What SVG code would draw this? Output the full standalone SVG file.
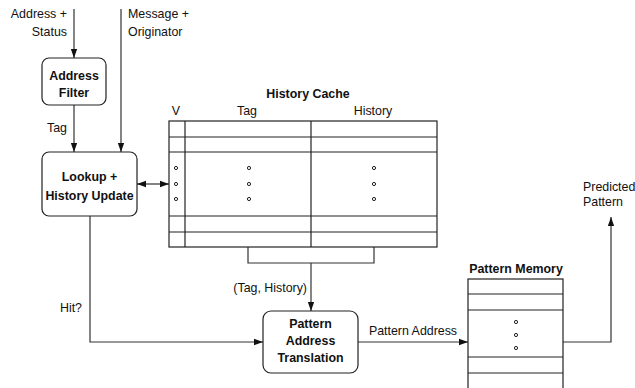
<svg xmlns="http://www.w3.org/2000/svg" width="635" height="388" viewBox="0 0 635 388">
<style>
text{font-family:"Liberation Sans",Arial,sans-serif;font-size:12.4px;fill:#111}
.b{font-weight:bold}
.box{fill:#fff;stroke:#222;stroke-width:1.2}
.ln{fill:none;stroke:#333;stroke-width:1.2}
.tl{fill:none;stroke:#222;stroke-width:1.2}
.dot{fill:#fff;stroke:#222;stroke-width:1}
</style>
<defs>
<marker id="ah" viewBox="0 0 10 10" refX="10" refY="5" markerWidth="9" markerHeight="9" markerUnits="userSpaceOnUse" orient="auto-start-reverse">
<path d="M0,1.5 L10,5 L0,8.5 z" fill="#111"/>
</marker>
</defs>
<rect width="635" height="388" fill="#fff"/>
<g id="connectors">
<line class="ln" x1="74" y1="9" x2="74" y2="58" marker-end="url(#ah)"/>
<line class="ln" x1="121" y1="9" x2="121" y2="152" marker-end="url(#ah)"/>
<line class="ln" x1="74" y1="105" x2="74" y2="152" marker-end="url(#ah)"/>
<line class="ln" x1="137" y1="184" x2="169" y2="184" marker-start="url(#ah)" marker-end="url(#ah)"/>
<polyline class="ln" points="90,216 90,342 263,342" marker-end="url(#ah)"/>
<polyline class="ln" points="248,247 248,263 374,263 374,247"/>
<line class="ln" x1="311" y1="263" x2="311" y2="311" marker-end="url(#ah)"/>
<line class="ln" x1="358" y1="342" x2="468" y2="342" marker-end="url(#ah)"/>
<polyline class="ln" points="563,342 611,342 611,217" marker-end="url(#ah)"/>
<text x="67" y="18" text-anchor="end">Address +</text>
<text x="67" y="36" text-anchor="end">Status</text>
<text x="128" y="18">Message +</text>
<text x="128" y="36">Originator</text>
<text x="47" y="132">Tag</text>
<text x="82" y="312" text-anchor="end">Hit?</text>
<text x="307" y="292" text-anchor="end">(Tag, History)</text>
<text x="413" y="335" text-anchor="middle">Pattern Address</text>
<text x="583" y="191">Predicted</text>
<text x="583" y="206">Pattern</text>
</g>
<g id="address-filter">
<rect class="box" x="42" y="58" width="64" height="47" rx="7"/>
<text class="b" x="74" y="80" text-anchor="middle">Address</text>
<text class="b" x="74" y="97" text-anchor="middle">Filter</text>
</g>
<g id="lookup">
<rect class="box" x="42" y="152" width="95" height="64" rx="7"/>
<text class="b" x="89.5" y="181" text-anchor="middle">Lookup +</text>
<text class="b" x="89.5" y="200" text-anchor="middle">History Update</text>
</g>
<g id="history-cache">
<text class="b" x="308" y="98" text-anchor="middle">History Cache</text>
<text x="176" y="115" text-anchor="middle">V</text>
<text x="247" y="115" text-anchor="middle">Tag</text>
<text x="373" y="115" text-anchor="middle">History</text>
<rect class="tl" x="169" y="121" width="268" height="126" fill="#fff"/>
<line class="tl" x1="185" y1="121" x2="185" y2="247"/>
<line class="tl" x1="311" y1="121" x2="311" y2="247"/>
<line class="tl" x1="169" y1="137" x2="437" y2="137"/>
<line class="tl" x1="169" y1="152" x2="437" y2="152"/>
<line class="tl" x1="169" y1="216" x2="437" y2="216"/>
<line class="tl" x1="169" y1="232" x2="437" y2="232"/>
<g class="dot">
<circle cx="176" cy="168" r="1.6"/><circle cx="176" cy="184" r="1.6"/><circle cx="176" cy="199" r="1.6"/>
<circle cx="249" cy="168" r="1.6"/><circle cx="249" cy="184" r="1.6"/><circle cx="249" cy="199" r="1.6"/>
<circle cx="374" cy="168" r="1.6"/><circle cx="374" cy="184" r="1.6"/><circle cx="374" cy="199" r="1.6"/>
</g>
</g>
<g id="pattern-address-translation">
<rect class="box" x="263" y="311" width="95" height="62" rx="8"/>
<text class="b" x="310.5" y="328" text-anchor="middle">Pattern</text>
<text class="b" x="310.5" y="345" text-anchor="middle">Address</text>
<text class="b" x="310.5" y="362" text-anchor="middle">Translation</text>
</g>
<g id="pattern-memory">
<text class="b" x="516" y="273" text-anchor="middle">Pattern Memory</text>
<rect class="tl" x="468" y="279" width="95" height="120" fill="#fff"/>
<line class="tl" x1="468" y1="294" x2="563" y2="294"/>
<line class="tl" x1="468" y1="310" x2="563" y2="310"/>
<line class="tl" x1="468" y1="357" x2="563" y2="357"/>
<line class="tl" x1="468" y1="373" x2="563" y2="373"/>
<g class="dot">
<circle cx="516" cy="322" r="1.6"/><circle cx="516" cy="335" r="1.6"/><circle cx="516" cy="348" r="1.6"/>
</g>
</g>
</svg>
